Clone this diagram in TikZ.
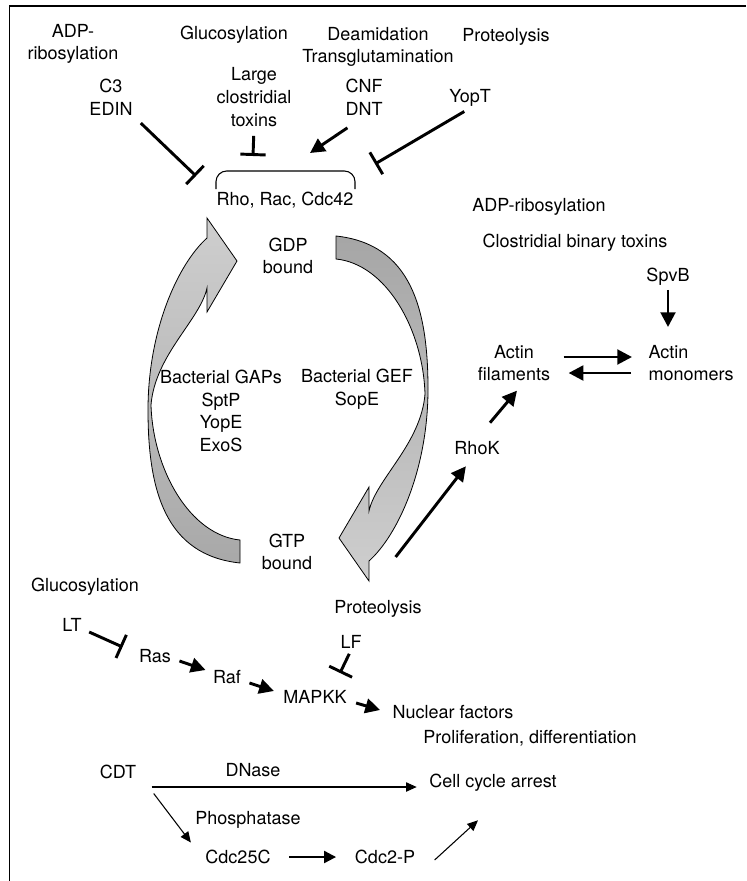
\documentclass[tikz,border=0pt]{standalone}
\usepackage{fontspec}
\setmainfont{TeX Gyre Heros}
\usetikzlibrary{arrows.meta}
\newcommand{\lblfont}{\fontsize{13.5}{17}\selectfont}

\begin{document}
\begin{tikzpicture}[x=0.75pt, y=-0.75pt,
		lbl/.style={font=\lblfont, align=center, inner sep=1pt},
		act/.style={line width=2.2pt, -{Triangle[length=11pt,width=11pt]}},
		inh/.style={line width=2.2pt, -{Bar[width=19pt]}},
		thinact/.style={line width=0.8pt, -{Triangle[length=8pt,width=7pt]}},
		midact/.style={line width=1.6pt, -{Triangle[length=9pt,width=9pt]}},
		cyclearrow/.style={draw, line width=0.6pt}]
		\useasboundingbox (0,0) rectangle (746,881);
		\draw[line width=1.4pt] (746,6) -- (9.5,6) -- (9.5,881);
		
		% toxins acting on Rho, Rac, Cdc42
		\node[lbl] (adp) at (73,44) {ADP-\\ribosylation};
		\node[lbl] (c3) at (111,97) {C3\\EDIN};
		\node[lbl] (gluc) at (234,35) {Glucosylation};
		\node[lbl] (lct) at (254,97) {Large\\clostridial\\toxins};
		\node[lbl] (deam) at (378,47) {Deamidation\\Transglutamination};
		\node[lbl] (cnf) at (364,97) {CNF\\DNT};
		\node[lbl] (prot) at (506,37) {Proteolysis};
		\node[lbl] (yopt) at (470,98) {YopT};
		\node[lbl] (rho) at (285,200) {Rho, Rac, Cdc42};
		\draw[line width=0.8pt, rounded corners=8pt] (216,189) -- (216,171) -- (355,171) -- (355,189);
		
		\coordinate (c3end) at (196,176);
		\coordinate (lctend) at (253,156);
		\coordinate (cnfend) at (310,153);
		\coordinate (yoptend) at (375,164);
		\draw[inh, shorten <=7pt] (c3.south east) -- (c3end);
		\draw[inh, shorten <=6pt] (lct.south) -- (lctend);
		\draw[act, shorten <=15pt] (cnf.south) -- (cnfend);
		\draw[inh, shorten <=5pt] (yopt.south) -- (yoptend);
		
		% GDP/GTP cycle
		\path[cyclearrow, top color=gray!38, bottom color=gray!68]
			(240,563) .. controls (165,555) and (148,490) .. (148,410)
			.. controls (148,330) and (178,264) .. (207,238)
			-- (207,218) -- (237,261) -- (207,312) -- (207,288)
			.. controls (200,320) and (155,355) .. (151,405)
			.. controls (153,470) and (190,535) .. (240,540) -- cycle;
		\path[cyclearrow, top color=gray!70, bottom color=gray!38]
			(336,236) .. controls (411,244) and (428,309) .. (428,389)
			.. controls (428,469) and (398,535) .. (369,561)
			-- (369,581) -- (339,538) -- (369,487) -- (369,511)
			.. controls (376,479) and (421,444) .. (425,394)
			.. controls (423,329) and (386,264) .. (336,259) -- cycle;
		\node[lbl] (gdp) at (288,256) {GDP\\bound};
		\node[lbl] (gtp) at (287,552) {GTP\\bound};
		\node[lbl] (gaps) at (221,411) {Bacterial GAPs\\SptP\\YopE\\ExoS};
		\node[lbl] (gef) at (357,389) {Bacterial GEF\\SopE};
		
		% actin
		\node[lbl] (adp2) at (539,207) {ADP-ribosylation};
		\node[lbl] (cbt) at (575,243) {Clostridial binary toxins};
		\node[lbl] (spvb) at (668,277) {SpvB};
		\node[lbl] (fil) at (514,363) {Actin\\filaments};
		\node[lbl, align=left, anchor=west] (mono) at (647,363) {Actin\\monomers};
		\node[lbl] (rhok) at (477,448) {RhoK};
		\coordinate (spvbend) at (668,327);
		\coordinate (gtpout) at ([shift={(82,5)}]gtp.east);
		\draw[act, shorten <=2pt] (spvb.south) -- (spvbend);
		\draw[act] ([shift={(12,-6)}]fil.east) -- ([shift={(-15,-6)}]mono.west);
		\draw[act] ([shift={(-16,10)}]mono.west) -- ([shift={(17,10)}]fil.east);
		\draw[act] ([shift={(13,-17)}]rhok.north) -- ([shift={(3,8)}]fil.south);
		\draw[act] (gtpout) -- ([shift={(13,10)}]rhok.south west);
		
		% Ras pathway
		\node[lbl] (gluc2) at (85,587) {Glucosylation};
		\node[lbl] (prot2) at (378,609) {Proteolysis};
		\node[lbl] (lt) at (72,625) {LT};
		\node[lbl] (ras) at (155,656) {Ras};
		\node[lbl] (raf) at (227,677) {Raf};
		\node[lbl] (mapkk) at (315,697) {MAPKK};
		\node[lbl] (lf) at (351,642) {LF};
		\node[lbl] (nuc) at (453,712) {Nuclear factors};
		\node[lbl] (prolif) at (530,738) {Proliferation, differentiation};
		\coordinate (lfend) at (340,673);
		\draw[inh] ([shift={(6,7)}]lt.east) -- ([shift={(-15,-9)}]ras.west);
		\draw[act] ([shift={(7,5)}]ras.east) -- ([shift={(-6,-7)}]raf.west);
		\draw[act] ([shift={(7,6)}]raf.east) -- ([shift={(-8,-6)}]mapkk.west);
		\draw[act] ([shift={(8,6)}]mapkk.east) -- ([shift={(-11,-2)}]nuc.west);
		\draw[inh, shorten <=3pt] (lf.south) -- (lfend);
		
		% CDT
		\node[lbl] (cdt) at (118,772) {CDT};
		\node[lbl] (dnase) at (253,770) {DNase};
		\node[lbl] (arrest) at (493,783) {Cell cycle arrest};
		\node[lbl] (phos) at (248,820) {Phosphatase};
		\node[lbl] (cdc25) at (238,857) {Cdc25C};
		\node[lbl] (cdc2) at (385,857) {Cdc2-P};
		\draw[thinact] ([shift={(14,15)}]cdt.east) -- ([shift={(-11,4)}]arrest.west);
		\draw[thinact] ([shift={(16,13)}]cdt.south east) -- ([shift={(-13,-6)}]cdc25.north west);
		\draw[midact] ([xshift=13]cdc25.east) -- ([xshift=-13]cdc2.west);
		\draw[thinact] ([shift={(18,3)}]cdc2.east) -- ([shift={(-15,27)}]arrest.south);
	\end{tikzpicture}
\end{document}
